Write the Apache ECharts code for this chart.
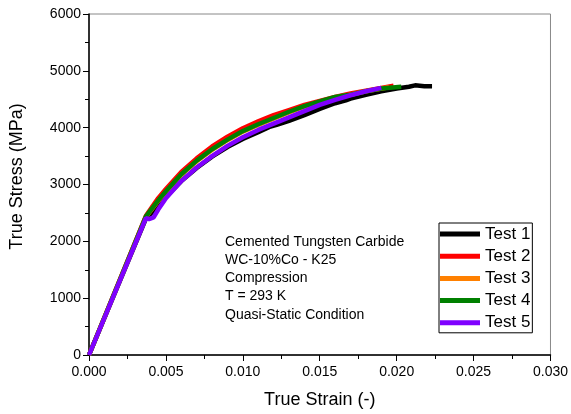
<!DOCTYPE html>
<html>
<head>
<meta charset="utf-8">
<script src="https://cdn.jsdelivr.net/npm/echarts@6/dist/echarts.min.js"></script>
<style>
  html, body { margin: 0; padding: 0; background: #fff; }
  #chart { width: 571px; height: 414px; }
</style>
</head>
<body>
<div id="chart"></div>
<script>
// [true strain, true stress (MPa)] pairs
var test1 = [[0, 0], [0.0037, 2400], [0.0045, 2620], [0.005, 2780], [0.006, 3060], [0.007, 3290],
  [0.008, 3490], [0.009, 3660], [0.010, 3800], [0.011, 3920], [0.0118, 4020], [0.0122, 4050],
  [0.013, 4120], [0.014, 4220], [0.015, 4330], [0.016, 4430], [0.0167, 4480], [0.017, 4510],
  [0.018, 4580], [0.019, 4640], [0.020, 4690], [0.0208, 4720], [0.0212, 4745], [0.0218, 4730], [0.0223, 4730]];
var test2 = [[0, 0], [0.0037, 2450], [0.0045, 2760], [0.005, 2920], [0.006, 3220], [0.007, 3460],
  [0.008, 3670], [0.009, 3840], [0.010, 3990], [0.011, 4110], [0.012, 4220], [0.013, 4310],
  [0.014, 4400], [0.015, 4470], [0.016, 4540], [0.017, 4600], [0.018, 4650], [0.019, 4700], [0.0198, 4740]];
var test3 = [[0, 0], [0.0037, 2430], [0.0045, 2710], [0.005, 2870], [0.006, 3170], [0.007, 3410],
  [0.008, 3610], [0.009, 3780], [0.010, 3930], [0.011, 4050], [0.012, 4160], [0.013, 4270],
  [0.014, 4370], [0.015, 4450], [0.016, 4530], [0.017, 4580], [0.018, 4640], [0.0195, 4710]];
var test4 = [[0, 0], [0.0037, 2440], [0.0045, 2720], [0.005, 2880], [0.006, 3180], [0.007, 3420],
  [0.008, 3620], [0.009, 3790], [0.010, 3940], [0.011, 4060], [0.012, 4170], [0.013, 4280],
  [0.014, 4380], [0.015, 4460], [0.016, 4540], [0.0165, 4560], [0.017, 4580], [0.018, 4640],
  [0.019, 4690], [0.0203, 4720]];
var test5 = [[0, 0], [0.0037, 2410], [0.0039, 2390], [0.0042, 2420], [0.0045, 2560], [0.005, 2760],
  [0.006, 3060], [0.007, 3300], [0.008, 3500], [0.009, 3680], [0.010, 3830], [0.011, 3960],
  [0.012, 4070], [0.013, 4180], [0.014, 4290], [0.015, 4400], [0.016, 4490], [0.017, 4570],
  [0.018, 4640], [0.019, 4700]];

var seriesNames = ['Test 1', 'Test 2', 'Test 3', 'Test 4', 'Test 5'];
var seriesColors = ['#000000', '#ff0000', '#ff8000', '#008000', '#7f00ff'];
var seriesData = [test1, test2, test3, test4, test5];

var noteLines = ['Cemented Tungsten Carbide', 'WC-10%Co - K25', 'Compression', 'T = 293 K', 'Quasi-Static Condition'];

var font = 'Liberation Sans, Arial, sans-serif';
var myChart = echarts.init(document.getElementById('chart'));

var series = [];
for (var i = 0; i < seriesData.length; i++) {
  series.push({
    name: seriesNames[i],
    type: 'line',
    data: seriesData[i],
    showSymbol: false,
    symbol: 'none',
    smooth: false,
    animation: false,
    lineStyle: { color: seriesColors[i], width: 4.5 },
    itemStyle: { color: seriesColors[i] }
  });
}

var graphics = [];
for (var j = 0; j < noteLines.length; j++) {
  graphics.push({
    type: 'text',
    left: 225,
    top: 235 + j * 18.2,
    style: { text: noteLines[j], fill: '#000', font: '14px ' + font }
  });
}

var option = {
  backgroundColor: '#fff',
  animation: false,
  grid: {
    left: 89, right: 19, top: 14, bottom: 59,
    show: true, borderColor: '#888', borderWidth: 1, backgroundColor: 'transparent'
  },
  legend: {
    orient: 'vertical',
    left: 439, top: 223,
    padding: [1, 2, 0, 1],
    itemGap: 2.2,
    itemWidth: 40, itemHeight: 5,
    icon: 'rect',
    selectedMode: false,
    borderColor: '#000', borderWidth: 1,
    backgroundColor: '#fff',
    textStyle: { color: '#000', fontSize: 17, fontFamily: font, lineHeight: 20 },
    data: seriesNames
  },
  xAxis: {
    type: 'value',
    min: 0, max: 0.03, interval: 0.005,
    name: 'True Strain (-)',
    nameLocation: 'middle',
    nameGap: 36,
    nameTextStyle: { color: '#000', fontSize: 18, fontFamily: font },
    axisLine: { show: true, onZero: false, lineStyle: { color: '#000', width: 1.5 } },
    axisTick: { show: true, inside: false, length: 6, lineStyle: { color: '#000' } },
    minorTick: { show: true, splitNumber: 2, length: 4, lineStyle: { color: '#000' } },
    splitLine: { show: false },
    axisLabel: {
      color: '#000', fontSize: 14, fontFamily: font, margin: 10,
      formatter: function (v) { return v.toFixed(3); }
    }
  },
  yAxis: {
    type: 'value',
    min: 0, max: 6000, interval: 1000,
    name: 'True Stress (MPa)',
    nameLocation: 'middle',
    nameGap: 63,
    nameTextStyle: { color: '#000', fontSize: 18, fontFamily: font, padding: [0, 0, 0, 16] },
    axisLine: { show: true, onZero: false, lineStyle: { color: '#000', width: 1.5 } },
    axisTick: { show: true, inside: false, length: 6, lineStyle: { color: '#000' } },
    minorTick: { show: true, splitNumber: 2, length: 4, lineStyle: { color: '#000' } },
    splitLine: { show: false },
    axisLabel: {
      color: '#000', fontSize: 14, fontFamily: font, margin: 8,
      formatter: function (v) { return String(v); }
    }
  },
  graphic: graphics,
  series: series
};

myChart.setOption(option);
</script>
</body>
</html>
